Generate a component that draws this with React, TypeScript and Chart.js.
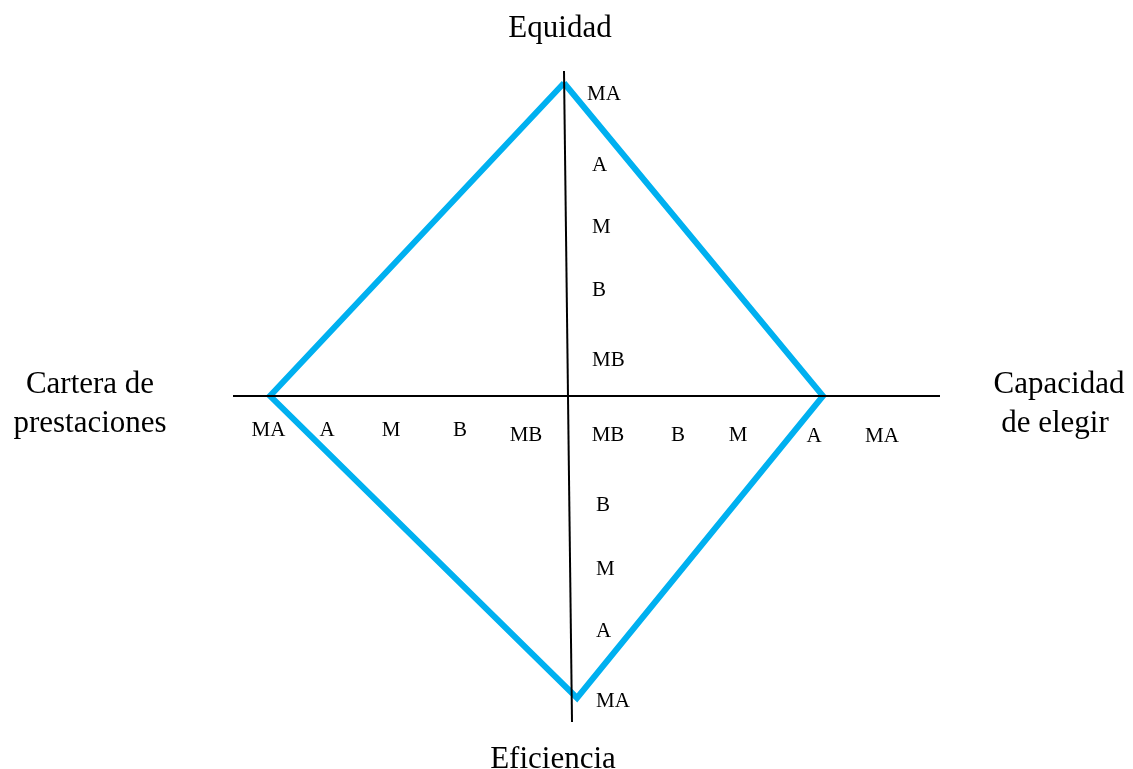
import React, { useEffect, useRef } from "react";
import { Chart, registerables } from "chart.js";

Chart.register(...registerables);

// Chart coordinate system: origin at the axes crossing, 1 unit ≈ 10 px
const X_RANGE = [-56.8, 56.5];
const Y_RANGE = [-37.3, 39.6];

// Diamond vertices: Equidad (top), Capacidad de elegir (right), Eficiencia (bottom), Cartera de prestaciones (left)
const diamondX = [-0.4, 25.5, 0.9, -29.8, -0.4];
const diamondY = [31.3, 0, -30.2, 0, 31.3];

// Axes
const vAxisX = [-0.4, 0.4];
const vAxisY = [32.5, -32.6];
const hAxisX = [-33.5, 37.2];
const hAxisY = [0, 0];

// Tick labels
const upLabels = ["MA", "A", "M", "B", "MB"];
const upX = [1.9, 2.4, 2.4, 2.4, 2.4];
const upY = [30.2, 23.1, 16.9, 10.6, 3.6];

const downLabels = ["B", "M", "A", "MA"];
const downX = [2.8, 2.8, 2.8, 2.8];
const downY = [-10.9, -17.3, -23.5, -30.5];

const leftLabels = ["MA", "A", "M", "B", "MB"];
const leftX = [-29.95, -24.1, -17.7, -10.8, -4.2];
const leftY = [-3.4, -3.4, -3.4, -3.4, -3.9];

const rightLabels = ["MB", "B", "M", "A", "MA"];
const rightX = [4.0, 11.0, 17.0, 24.6, 31.4];
const rightY = [-3.9, -3.9, -3.9, -4.0, -4.0];

// Axis titles (centered, baseline)
const titleLines = ["Equidad", "Eficiencia", "Cartera de", "prestaciones", "Capacidad", "de elegir"];
const titleX = [-0.8, -1.5, -47.8, -47.8, 49.1, 48.7];
const titleY = [35.9, -37.2, 0.3, -3.6, 0.3, -3.6];

const BLUE = "#00B0F0";
const SERIF = "'Liberation Serif', 'Times New Roman', serif";

const toPts = (xs: number[], ys: number[]) => xs.map((x, i) => ({ x, y: ys[i] }));

const textPlugin = {
  id: "diagramText",
  afterDatasetsDraw(chart: any) {
    const ctx = chart.ctx;
    const xs = chart.scales.x;
    const ys = chart.scales.y;
    ctx.save();
    ctx.fillStyle = "#000";
    // tick labels
    ctx.font = `21px ${SERIF}`;
    ctx.textBaseline = "middle";
    ctx.textAlign = "left";
    upLabels.forEach((t, i) => ctx.fillText(t, xs.getPixelForValue(upX[i]), ys.getPixelForValue(upY[i])));
    downLabels.forEach((t, i) => ctx.fillText(t, xs.getPixelForValue(downX[i]), ys.getPixelForValue(downY[i])));
    ctx.textAlign = "center";
    leftLabels.forEach((t, i) => ctx.fillText(t, xs.getPixelForValue(leftX[i]), ys.getPixelForValue(leftY[i])));
    rightLabels.forEach((t, i) => ctx.fillText(t, xs.getPixelForValue(rightX[i]), ys.getPixelForValue(rightY[i])));
    // titles
    ctx.font = `31px ${SERIF}`;
    ctx.textBaseline = "alphabetic";
    titleLines.forEach((t, i) => ctx.fillText(t, xs.getPixelForValue(titleX[i]), ys.getPixelForValue(titleY[i])));
    ctx.restore();
  },
};

export default function App() {
  const ref = useRef<HTMLCanvasElement>(null);
  useEffect(() => {
    if (!ref.current) return;
    const chart = new Chart(ref.current, {
      type: "scatter",
      data: {
        datasets: [
          {
            data: toPts(vAxisX, vAxisY),
            showLine: true,
            borderColor: "#000",
            borderWidth: 2,
            pointRadius: 0,
            order: 0,
          },
          {
            data: toPts(hAxisX, hAxisY),
            showLine: true,
            borderColor: "#000",
            borderWidth: 2,
            pointRadius: 0,
            order: 0,
          },
          {
            data: toPts(diamondX, diamondY),
            showLine: true,
            borderColor: BLUE,
            borderWidth: 6,
            borderJoinStyle: "miter",
            pointRadius: 0,
            order: 1,
          },
        ],
      } as any,
      options: {
        animation: false,
        responsive: false,
        devicePixelRatio: 1,
        layout: { padding: 0 },
        plugins: { legend: { display: false }, tooltip: { enabled: false }, title: { display: false } },
        events: [],
        scales: {
          x: { type: "linear", min: X_RANGE[0], max: X_RANGE[1], display: false },
          y: { type: "linear", min: Y_RANGE[0], max: Y_RANGE[1], display: false },
        },
      } as any,
      plugins: [textPlugin],
    });
    return () => chart.destroy();
  }, []);
  return (
    <div style={{ position: "absolute", left: 0, top: 0, width: 1133, height: 769, background: "#fff" }}>
      <canvas ref={ref} width={1133} height={769} style={{ display: "block" }} />
    </div>
  );
}
